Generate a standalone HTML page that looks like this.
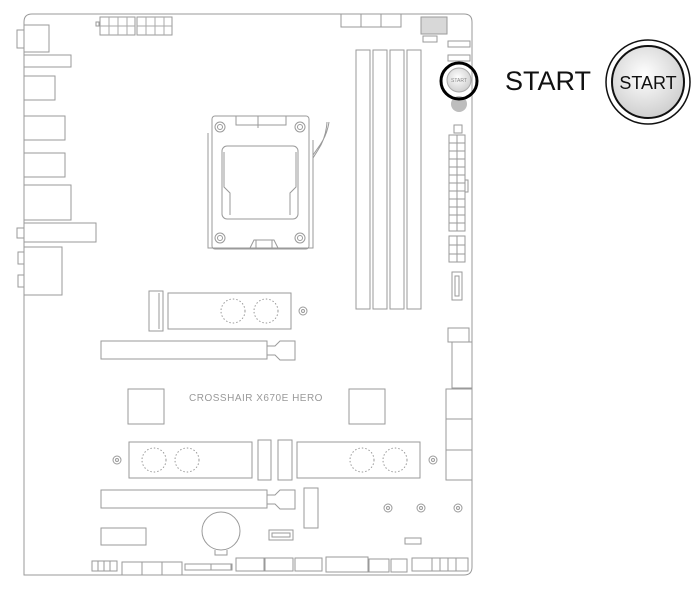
<!DOCTYPE html>
<html><head><meta charset="utf-8"><style>
html,body{margin:0;padding:0;background:#fff;width:699px;height:600px;overflow:hidden}
svg{display:block}
</style></head><body>
<svg width="699" height="600" viewBox="0 0 699 600" xmlns="http://www.w3.org/2000/svg">
<defs>
<radialGradient id="g" cx="45%" cy="40%" r="60%"><stop offset="0" stop-color="#fff"/><stop offset="1" stop-color="#cfcfcf"/></radialGradient>
</defs>
<g fill="none" stroke="#9a9a9a" stroke-width="1">
<!-- board -->
<path d="M24 575 L24 22 Q24 14 32 14 L464 14 Q472 14 472 22 L472 567 Q472 575 464 575 Z"/>
<!-- EPS -->
<rect x="100" y="17" width="35" height="18"/><rect x="137" y="17" width="35" height="18"/>
<g stroke="#aaa">
<path d="M109 17v18M118 17v18M127 17v18M100 26h35M146 17v18M155 17v18M164 17v18M137 26h35"/></g>
<rect x="96" y="22" width="3" height="4"/>
<!-- IO -->
<rect x="24" y="25" width="25" height="27"/><rect x="17" y="30" width="7" height="18"/>
<rect x="24" y="55" width="47" height="12"/>
<rect x="24" y="76" width="31" height="24"/>
<rect x="24" y="116" width="41" height="24"/>
<rect x="24" y="153" width="41" height="24"/>
<rect x="24" y="185" width="47" height="35"/>
<rect x="24" y="223" width="72" height="19"/><rect x="17" y="228" width="7" height="10"/>
<rect x="24" y="247" width="38" height="48"/><rect x="18" y="252" width="6" height="12"/><rect x="18" y="275" width="6" height="12"/>
<!-- CPU socket -->
<rect x="212" y="116" width="97" height="133" rx="3"/>
<path d="M208 133 V248 H313 V140"/>
<rect x="222" y="146" width="76" height="73" rx="5"/>
<path d="M224 152 V187 L230 193 V215 M296 152 V187 L290 193 V215"/>
<circle cx="220" cy="127" r="5"/><circle cx="220" cy="127" r="2.5"/>
<circle cx="300" cy="127" r="5"/><circle cx="300" cy="127" r="2.5"/>
<circle cx="220" cy="238" r="5"/><circle cx="220" cy="238" r="2.5"/>
<circle cx="300" cy="238" r="5"/><circle cx="300" cy="238" r="2.5"/>
<path d="M236 116 V125 H286 V116 M258 116 V128 M250 248 L254 240 H274 L278 248 M256 240 V248 H272 V240"/>
<path d="M313 155 L320 145 Q327 135 329 122 M313 158 L318 150 Q326 138 327 122"/>
<!-- top fans -->
<rect x="341" y="14" width="20" height="13"/><rect x="361" y="14" width="20" height="13"/><rect x="381" y="14" width="20" height="13"/>
<!-- DIMM -->
<rect x="356" y="50" width="14" height="259"/><rect x="373" y="50" width="14" height="259"/>
<rect x="390" y="50" width="14" height="259"/><rect x="407" y="50" width="14" height="259"/>
<!-- qcode -->
<rect x="421" y="17" width="26" height="17" fill="#d8d8d8"/>
<rect x="423" y="36" width="14" height="6"/><rect x="448" y="41" width="22" height="6"/><rect x="448" y="55" width="22" height="6"/>
<!-- 24pin -->
<rect x="449" y="135" width="16" height="96"/>
<path d="M457 135v96 M449 143h16M449 151h16M449 159h16M449 167h16M449 175h16M449 183h16M449 191h16M449 199h16M449 207h16M449 215h16M449 223h16"/>
<rect x="465" y="180" width="3" height="12"/>
<rect x="454" y="125" width="8" height="8"/>
<rect x="449" y="236" width="16" height="26"/><path d="M457 236v26M449 245h16M449 254h16"/>
<rect x="452" y="272" width="10" height="28"/><rect x="455" y="276" width="4" height="20"/>
<!-- M.2 1 -->
<rect x="149" y="291" width="14" height="40"/><path d="M159 293v36"/>
<rect x="168" y="293" width="123" height="36"/>
<g stroke-dasharray="1.5 2"><circle cx="233" cy="311" r="12"/><circle cx="266" cy="311" r="12"/>
<circle cx="154" cy="460" r="12"/><circle cx="187" cy="460" r="12"/><circle cx="362" cy="460" r="12"/><circle cx="395" cy="460" r="12"/></g>
<circle cx="303" cy="311" r="4"/><circle cx="303" cy="311" r="1.5"/>
<!-- PCIe -->
<path d="M101 341 H267 V359 H101 Z M267 346 H275 L280 341 H295 V360 H280 L275 355 H267"/>
<path d="M101 490 H267 V508 H101 Z M267 495 H275 L280 490 H295 V509 H280 L275 504 H267"/>
<!-- heatsinks -->
<rect x="128" y="389" width="36" height="35"/><rect x="349" y="389" width="36" height="35"/>
<!-- M.2 2/3 -->
<rect x="129" y="442" width="123" height="36"/><rect x="297" y="442" width="123" height="36"/>
<rect x="258" y="440" width="13" height="40"/><rect x="278" y="440" width="14" height="40"/>
<circle cx="117" cy="460" r="4"/><circle cx="117" cy="460" r="1.5"/>
<circle cx="433" cy="460" r="4"/><circle cx="433" cy="460" r="1.5"/>
<rect x="304" y="488" width="14" height="40"/>
<circle cx="221" cy="531" r="19"/><path d="M215 550v5h12v-5"/>
<rect x="101" y="528" width="45" height="17"/>
<rect x="269" y="530" width="24" height="10"/><rect x="272" y="533" width="18" height="4"/>
<circle cx="388" cy="508" r="4"/><circle cx="388" cy="508" r="1.5"/>
<circle cx="421" cy="508" r="4"/><circle cx="421" cy="508" r="1.5"/>
<circle cx="458" cy="508" r="4"/><circle cx="458" cy="508" r="1.5"/>
<rect x="405" y="538" width="16" height="6"/>
<!-- right edge -->
<rect x="448" y="328" width="21" height="14"/>
<rect x="452" y="342" width="20" height="46"/>
<rect x="446" y="389" width="26" height="30"/><rect x="446" y="419" width="26" height="31"/><rect x="446" y="450" width="26" height="30"/>
<!-- bottom row -->
<rect x="92" y="561" width="25" height="10"/><path d="M98 561v10M104 561v10M110 561v10"/>
<rect x="122" y="562" width="60" height="13"/><path d="M142 562v13M162 562v13"/>
<rect x="185" y="564" width="47" height="6"/><rect x="211" y="564" width="20" height="6"/>
<rect x="236" y="558" width="28" height="13"/><rect x="265" y="558" width="28" height="13"/><rect x="295" y="558" width="27" height="13"/>
<rect x="326" y="557" width="42" height="15"/><rect x="369" y="559" width="20" height="13"/><rect x="391" y="559" width="16" height="13"/>
<rect x="412" y="558" width="56" height="13"/><path d="M432 558v13M440 558v13M448 558v13M456 558v13"/>
</g>
<text x="256" y="401" font-family="Liberation Sans, sans-serif" font-size="10" fill="#999" text-anchor="middle" letter-spacing="0.5">CROSSHAIR X670E HERO</text>
<!-- start button on board -->
<circle cx="459" cy="104" r="8" fill="#bdbdbd"/>
<circle cx="459" cy="80" r="12" fill="url(#g)" stroke="#aaa"/>
<text x="459" y="82" font-family="Liberation Sans, sans-serif" font-size="5" fill="#888" text-anchor="middle">START</text>
<circle cx="459" cy="81" r="18" fill="none" stroke="#000" stroke-width="3"/>
<!-- legend -->
<text x="505" y="90" font-family="Liberation Sans, sans-serif" font-size="27" fill="#111">START</text>
<circle cx="648" cy="82" r="42" fill="#fff" stroke="#111" stroke-width="1.5"/>
<circle cx="648" cy="82" r="36" fill="url(#g)" stroke="#111" stroke-width="2"/>
<text x="648" y="89" font-family="Liberation Sans, sans-serif" font-size="18" fill="#111" text-anchor="middle">START</text>
</svg>
</body></html>
